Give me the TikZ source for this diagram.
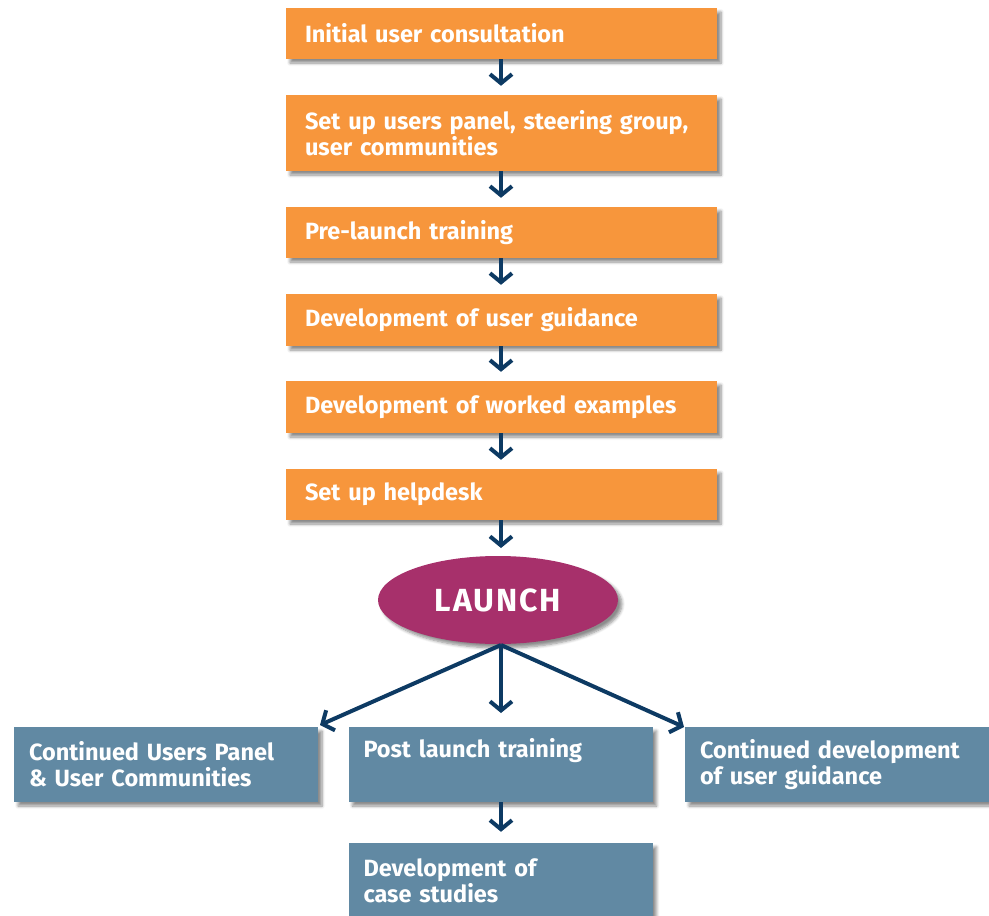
\documentclass[tikz,border=0pt]{standalone}
\usepackage{fontspec}
\setmainfont{Fira Sans}
\usetikzlibrary{arrows.meta,shapes.geometric,shadows.blur}
\definecolor{orangebox}{HTML}{F7963C}
\definecolor{bluebox}{HTML}{6189A3}
\definecolor{launchcol}{HTML}{A7306B}
\definecolor{arrowcol}{HTML}{0D3A63}
\tikzset{
  boxtext/.style={font=\fontsize{23.5}{26}\selectfont\bfseries, text=white},
  softshadow/.style={blur shadow={shadow xshift=4pt, shadow yshift=-4pt, shadow blur steps=6, shadow opacity=45, shadow blur radius=3pt}},
  orangestep/.style={boxtext, fill=orangebox, draw=none, minimum width=431pt, align=left, text width=393pt, inner xsep=19pt, inner ysep=0pt, softshadow},
  bluestep/.style={boxtext, fill=bluebox, draw=none, minimum width=304pt, minimum height=75pt, align=left, text width=274pt, inner xsep=15pt, inner ysep=0pt, softshadow},
  arr/.style={draw=arrowcol, line width=4pt, -{Straight Barb[length=9pt,width=22pt]}},
}
\begin{document}
\begin{tikzpicture}[x=1pt,y=-1pt]
\useasboundingbox (0,0) rectangle (989,916);
\node[orangestep, minimum height=51pt] (b1) at (501.5,33.5) {\raisebox{-1pt}{Initial user consultation}};
\node[orangestep, minimum height=76pt] (b2) at (501.5,133) {Set up users panel, steering group,\\user communities};
\node[orangestep, minimum height=51pt] (b3) at (501.5,232.5) {\raisebox{-2pt}{Pre-launch training}};
\node[orangestep, minimum height=52pt] (b4) at (501.5,320) {\raisebox{-2pt}{Development of user guidance}};
\node[orangestep, minimum height=52pt] (b5) at (501.5,407) {\raisebox{-2pt}{Development of worked examples}};
\node[orangestep, minimum height=51pt] (b6) at (501.5,494.5) {\raisebox{-2pt}{Set up helpdesk}};
\node[ellipse, fill=launchcol, minimum width=240pt, minimum height=88pt, inner sep=0pt, text=white, font=\fontsize{32}{36}\selectfont\bfseries\addfontfeatures{LetterSpace=6}, softshadow] (launch) at (498,600) {LAUNCH};
\node[bluestep] (c1) at (166,764.5) {Continued Users Panel\\\& User Communities};
\node[bluestep] (c2) at (500.5,764.5) {Post launch training\\\strut};
\node[bluestep] (c3) at (837,764.5) {Continued development\\of user guidance};
\node[bluestep] (c4) at (500.5,880.5) {Development of\\case studies};
\coordinate (launchbot) at (501,645);
\coordinate (lt) at (320,725);
\coordinate (mt) at (501,713);
\coordinate (rt) at (684,727);
\foreach \a/\b in {b1/b2,b2/b3,b3/b4,b4/b5,b5/b6}{
  \draw[arr, shorten >=9pt] (\a.south -| 501,0) -- (\b.north -| 501,0);
}
\draw[arr, shorten >=9pt] (b6.south -| 501,0) -- (501,557);
\draw[arr] (launchbot) -- (lt);
\draw[arr] (launchbot) -- (mt);
\draw[arr] (launchbot) -- (rt);
\draw[arr, shorten >=11pt] (c2.south -| 501,0) -- (c4.north -| 501,0);
\end{tikzpicture}
\end{document}
